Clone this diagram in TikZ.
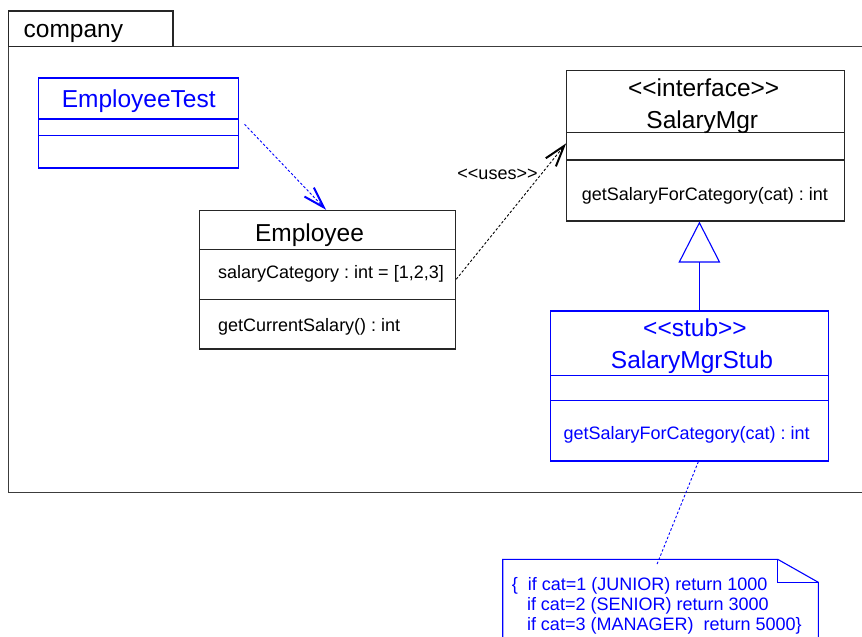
\documentclass[tikz,border=0pt]{standalone}
\usepackage{fontspec}
\setmainfont{Liberation Sans}[Ligatures=TeXOff]
\usetikzlibrary{arrows.meta,calc}
\frenchspacing
\definecolor{umlblue}{RGB}{0,0,255}
\definecolor{frameline}{RGB}{60,60,60}
\newcommand\titlefont{\fontsize{24.5}{29}\selectfont}
\newcommand\memberfont{\fontsize{18}{20}\selectfont}
\tikzset{
  classbox/.style={draw=black!85, line width=1.1pt, rectangle, inner sep=0pt},
  stubbox/.style={draw=umlblue, line width=1.1pt, rectangle, inner sep=0pt},
  divider/.style={line width=1.1pt},
  title/.style={font=\titlefont, anchor=base, inner sep=0pt},
  member/.style={font=\memberfont, anchor=base west, inner sep=0pt},
  depline/.style={line width=0.9pt, dash pattern=on 2.5pt off 2pt},
  opentip/.style={-{Straight Barb[length=21pt,width=13pt,line width=2pt]}},
  pkgline/.style={draw=frameline, line width=1.3pt},
}
\begin{document}
\begin{tikzpicture}[x=1pt,y=-1pt]
\useasboundingbox (0,0) rectangle (862,637);

% package frame with its name tab
\draw[pkgline] (870,46.7) -- (8.3,46.7) -- (8.3,492.3) -- (870,492.3);
\node[draw=black!85, line width=1.3pt, rectangle, minimum width=164.7pt, minimum height=35.7pt, inner sep=0pt] (tab) at (90.65,28.85) {};
\node[font=\titlefont, anchor=base west, inner sep=0pt] (pkgname) at (23.5,37.3) {company};

% class EmployeeTest
\node[stubbox, minimum width=200pt, minimum height=90pt] (et) at (138.7,123) {};
\draw[divider, umlblue] (et.west |- 0,119) -- (et.east |- 0,119);
\draw[divider, umlblue] (et.west |- 0,135.7) -- (et.east |- 0,135.7);
\node[title, text=umlblue] (ettitle) at (138.7,107.8) {EmployeeTest};

% class Employee
\node[classbox, minimum width=256.4pt, minimum height=138.7pt] (emp) at (327.5,279.65) {};
\draw[divider, black!85] (emp.west |- 0,249.3) -- (emp.east |- 0,249.3);
\draw[divider, black!85] (emp.west |- 0,299.3) -- (emp.east |- 0,299.3);
\node[title] (emptitle) at (309.5,241) {Employee};
\node[member] (empattr) at (218,278.3) {salaryCategory : int = [1,2,3]};
\node[member] (empop) at (218,331) {getCurrentSalary() : int};

% interface SalaryMgr
\node[classbox, minimum width=278pt, minimum height=150.3pt] (mgr) at (705.7,145.85) {};
\draw[divider, black!85] (mgr.west |- 0,132.7) -- (mgr.east |- 0,132.7);
\draw[divider, black!85] (mgr.west |- 0,160) -- (mgr.east |- 0,160);
\node[title] (mgrstereo) at (703.7,96) {<<interface>>};
\node[title] (mgrtitle) at (702.3,128) {SalaryMgr};
\node[member] (mgrop) at (581.7,200.7) {getSalaryForCategory(cat) : int};

% stub SalaryMgrStub
\node[stubbox, minimum width=277.3pt, minimum height=150pt] (stub) at (689.4,386) {};
\draw[divider, umlblue] (stub.west |- 0,375.7) -- (stub.east |- 0,375.7);
\draw[divider, umlblue] (stub.west |- 0,400.7) -- (stub.east |- 0,400.7);
\node[title, text=umlblue] (stubstereo) at (695,336.7) {<<stub>>};
\node[title, text=umlblue] (stubtitle) at (692,368) {SalaryMgrStub};
\node[member, text=umlblue] (stubop) at (563.3,439) {getSalaryForCategory(cat) : int};

% note attached to the stub
\draw[umlblue, line width=1.1pt] (502.7,645) -- (502.7,559.3) -- (777.7,559.3) -- (818.3,582.3) -- (818.3,645);
\draw[umlblue, line width=1.1pt] (777.7,559.3) -- (777.7,582.3) -- (818.3,582.3);
\node[member, text=umlblue] (note1) at (511.7,590.7) {\{\ \ if cat=1 (JUNIOR) return 1000};
\node[member, text=umlblue] (note2) at (526.8,610.7) {if cat=2 (SENIOR) return 3000};
\node[member, text=umlblue] (note3) at (526.8,630.3) {if cat=3 (MANAGER)\ \ return 5000\}};
\coordinate (noteend) at (656.7,565);

% connectors
\draw[depline, umlblue, opentip] ([xshift=5.3pt,yshift=-1.3pt]et.east) -- ([xshift=-1.5pt]emp.north);
\draw[depline, black, opentip] ([yshift=0.4pt]emp.east) -- ([yshift=2.5pt]mgr.west);
\node[font=\memberfont, anchor=base, inner sep=0pt] (useslabel) at (497.5,179) {<<uses>>};
\draw[umlblue, line width=1.1pt, -{Triangle[open, length=41pt, width=41.7pt, line width=1.1pt]}]
  ([xshift=10pt]stub.north) -- ([xshift=10pt]stub.north |- mgr.south);
\draw[depline, umlblue] ([xshift=9pt]stub.south) -- (noteend);
\end{tikzpicture}
\end{document}
